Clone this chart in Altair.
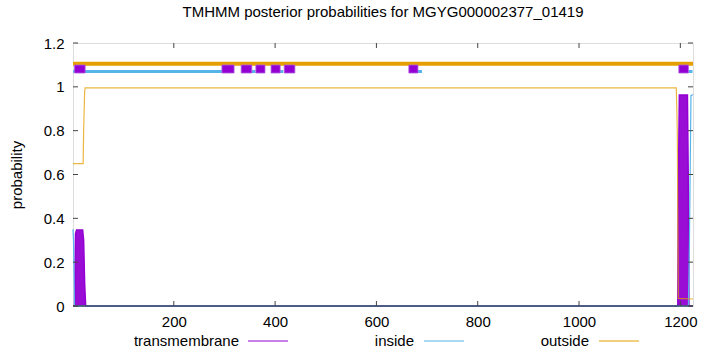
import altair as alt
import pandas as pd

title_text = "TMHMM posterior probabilities for MGYG000002377_01419"
series_names = ["transmembrane", "inside", "outside"]
series_colors = ["#9400d3", "#56b4e9", "#e69f00"]

x_ticks = [200, 400, 600, 800, 1000, 1200]
y_ticks = [0, 0.2, 0.4, 0.6, 0.8, 1, 1.2]
seq_len = 1225

# posterior probabilities (residue position, probability)
tm_pos = [1, 4, 6, 8, 20, 22, 24, 26, 1195, 1196, 1198, 1214, 1216, 1217, 1225]
tm_val = [0, 0, 0.33, 0.347, 0.347, 0.30, 0.10, 0, 0, 0.5, 0.963, 0.963, 0.5, 0, 0]
in_pos = [1, 2, 4, 1216, 1218, 1221, 1225]
in_val = [0.35, 0.30, 0, 0, 0.3, 0.96, 0.965]
out_pos = [1, 21, 22, 24, 25, 1192, 1194, 1196, 1225]
out_val = [0.65, 0.65, 0.80, 0.98, 0.995, 0.995, 0.8, 0.035, 0.032]

# predicted topology segments
out_seg_start = [1]
out_seg_end = [1225]
in_seg_start = [1, 354, 410, 682, 1216]
in_seg_end = [295, 361, 416, 690, 1224]
tm_seg_start = [4, 295, 333, 362, 392, 418, 664, 1197]
tm_seg_end = [25, 319, 354, 380, 410, 439, 682, 1216]
out_level = 1.1055
in_level = 1.070
tm_lo, tm_hi = 1.063, 1.0995

# ---- tables
tm_df = pd.DataFrame({"pos": tm_pos, "p": tm_val})
in_df = pd.DataFrame({"pos": in_pos, "p": in_val})
out_df = pd.DataFrame({"pos": out_pos, "p": out_val})
out_seg = pd.DataFrame({"s": out_seg_start, "e": out_seg_end, "lv": [out_level] * len(out_seg_start)})
in_seg = pd.DataFrame({"s": in_seg_start, "e": in_seg_end, "lv": [in_level] * len(in_seg_start)})
tm_seg = pd.DataFrame({"s": tm_seg_start, "e": tm_seg_end,
                       "lo": [tm_lo] * len(tm_seg_start), "hi": [tm_hi] * len(tm_seg_start)})
ytick_df = pd.DataFrame({"v": y_ticks})
xtick_df = pd.DataFrame({"v": x_ticks})

FONT = "Liberation Sans"
FS = 15
W, H = 620, 263

xs = alt.Scale(domain=[1, seq_len], nice=False, zero=False)
ys = alt.Scale(domain=[0, 1.2], nice=False, zero=False)
xaxis = alt.Axis(values=x_ticks, title=None, grid=False, domain=False, ticks=False, format="d",
                 labelPadding=8, labelFont=FONT, labelFontSize=FS, labelColor="#000")
yaxis = alt.Axis(values=y_ticks, title="probability", grid=False, domain=False, ticks=False,
                 labelPadding=9, labelFont=FONT, labelFontSize=FS, labelColor="#000",
                 format="~g", titleFont=FONT, titleFontSize=FS, titleFontWeight="normal",
                 titleColor="#000", titleAngle=270, titleX=-57, titleY=H / 2,
                 titleAlign="center", titleBaseline="middle")


def X(f):
    return alt.X(f, type="quantitative", scale=xs, axis=xaxis)


def Y(f):
    return alt.Y(f, type="quantitative", scale=ys, axis=yaxis)


tm_area = alt.Chart(tm_df).mark_area(color=series_colors[0], opacity=0.95).encode(
    x=X("pos"), y=Y("p"))
tm_line = alt.Chart(tm_df).mark_line(color=series_colors[0], strokeWidth=1.5).encode(
    x=X("pos"), y=Y("p"))
in_line = alt.Chart(in_df).mark_line(color=series_colors[1], strokeWidth=1.2).encode(
    x=X("pos"), y=Y("p"))
out_line = alt.Chart(out_df).mark_line(color=series_colors[2], strokeWidth=1.2, opacity=0.75).encode(
    x=X("pos"), y=Y("p"))

out_top = alt.Chart(out_seg).mark_rule(color=series_colors[2], strokeWidth=4).encode(
    x=X("s"), x2="e", y=Y("lv"))
in_top = alt.Chart(in_seg).mark_rule(color=series_colors[1], strokeWidth=3).encode(
    x=X("s"), x2="e", y=Y("lv"))
tm_top = alt.Chart(tm_seg).mark_rect(color=series_colors[0], stroke="#b060e0", strokeWidth=0.8).encode(
    x=X("s"), x2="e", y=Y("lo"), y2="hi")

# bottom border drawn over the curves, as in the reference
base_line = alt.Chart(pd.DataFrame({"v": [0]})).mark_rule(color="#3b5566", strokeWidth=1.5).encode(
    y=Y("v"), x=alt.value(0), x2=alt.value(W))

TL = 5
ytick_l = alt.Chart(ytick_df).mark_rule(color="#444", strokeWidth=1).encode(
    y=Y("v"), x=alt.value(0), x2=alt.value(TL))
ytick_r = alt.Chart(ytick_df).mark_rule(color="#444", strokeWidth=1).encode(
    y=Y("v"), x=alt.value(W - TL), x2=alt.value(W))
xtick_b = alt.Chart(xtick_df).mark_rule(color="#444", strokeWidth=1).encode(
    x=X("v"), y=alt.value(H - TL), y2=alt.value(H))
xtick_t = alt.Chart(xtick_df).mark_rule(color="#444", strokeWidth=1).encode(
    x=X("v"), y=alt.value(0), y2=alt.value(TL))

# legend (label left of sample line, gnuplot style)
leg_text_right = [166, 341, 516]
leg_line_x0 = [175, 351, 526]
leg_line_len = 40
leg_y = 298
legend_layers = []
for name, col, tx, lx in zip(series_names, series_colors, leg_text_right, leg_line_x0):
    legend_layers.append(
        alt.Chart(pd.DataFrame({"t": [name]})).mark_text(
            align="right", baseline="middle", font=FONT, fontSize=FS, color="#000"
        ).encode(text="t:N", x=alt.value(tx), y=alt.value(leg_y)))
    legend_layers.append(
        alt.Chart(pd.DataFrame({"t": [name]})).mark_rule(color=col, strokeWidth=1.2).encode(
            x=alt.value(lx), x2=alt.value(lx + leg_line_len), y=alt.value(leg_y)))

chart = alt.layer(
    tm_area, tm_line, in_line, out_line, base_line, out_top, in_top, tm_top,
    ytick_l, ytick_r, xtick_b, xtick_t, *legend_layers
).properties(
    width=W, height=H,
    title=alt.TitleParams(title_text, font=FONT, fontSize=FS, fontWeight="normal",
                          color="#000", anchor="middle", offset=16),
    autosize=alt.AutoSizeParams(type="none"),
    padding={"left": 73, "top": 43, "right": 27, "bottom": 46},
).configure_view(stroke="#000", strokeWidth=1).configure(background="white")

chart.save("out.html", embed_options={"renderer": "svg", "actions": False})
